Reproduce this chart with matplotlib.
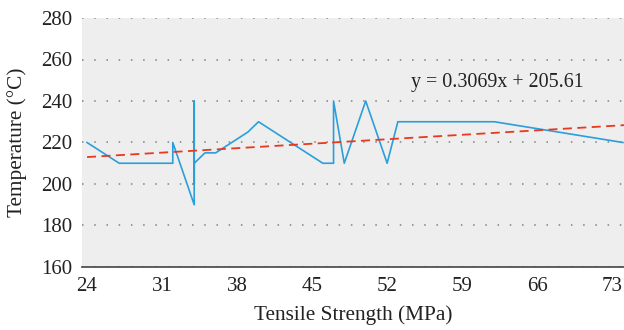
import matplotlib
matplotlib.use("Agg")
import matplotlib.pyplot as plt
import numpy as np

# Data
strength = [24, 27, 32, 32, 34, 34, 34, 34, 35, 36, 39, 40, 46, 47, 47, 48, 50, 52, 53, 62, 74]
temperature = [220, 210, 210, 220, 190, 240, 200, 210, 215, 215, 225, 230, 210, 210, 240, 210, 240, 210, 230, 230, 220]
slope = 0.3069
intercept = 205.61
trend_x = [24, 74.1]
x_ticks = [24, 31, 38, 45, 52, 59, 66, 73]
y_ticks = [160, 180, 200, 220, 240, 260, 280]
equation = "y = 0.3069x + 205.61"

plt.rcParams['font.family'] = ['Liberation Serif', 'DejaVu Serif']

fig = plt.figure(figsize=(6.24, 3.30), dpi=100)
ax = fig.add_axes([82/624, 1-267/330, 1-82/624, (267-18)/330])
ax.set_facecolor('#eeeeee')

for yt in y_ticks:
    ax.axhline(yt, color='#808080', lw=1.1, dashes=(1, 7.0), zorder=1)

ax.plot(strength, temperature, color='#2a9fdb', lw=1.2, zorder=3)
tx = np.array(trend_x)
ax.plot(tx, slope*tx + intercept, color='#e8391e', lw=1.3, dashes=(5, 3), zorder=4)

ax.text(54.2, 248.7, equation, fontsize=14.4, color='#222222', va='center', ha='left')

ax.set_xlim(23.53, 74.1)
ax.set_ylim(160, 280)
ax.set_xticks(x_ticks)
ax.set_yticks(y_ticks)
ax.tick_params(axis='both', length=0, labelsize=15, colors='#222222')
ax.tick_params(axis='y', pad=7)
ax.tick_params(axis='x', pad=7)
for s in ['top', 'right', 'left']:
    ax.spines[s].set_visible(False)
ax.spines['bottom'].set_color('#444444')
ax.spines['bottom'].set_linewidth(1.2)

ax.set_xlabel("Tensile Strength (MPa)", fontsize=15.3, color='#222222', labelpad=7)
ax.set_ylabel("Temperature (°C)", fontsize=15.3, color='#222222', labelpad=10)

fig.savefig("out.png", dpi=100)
